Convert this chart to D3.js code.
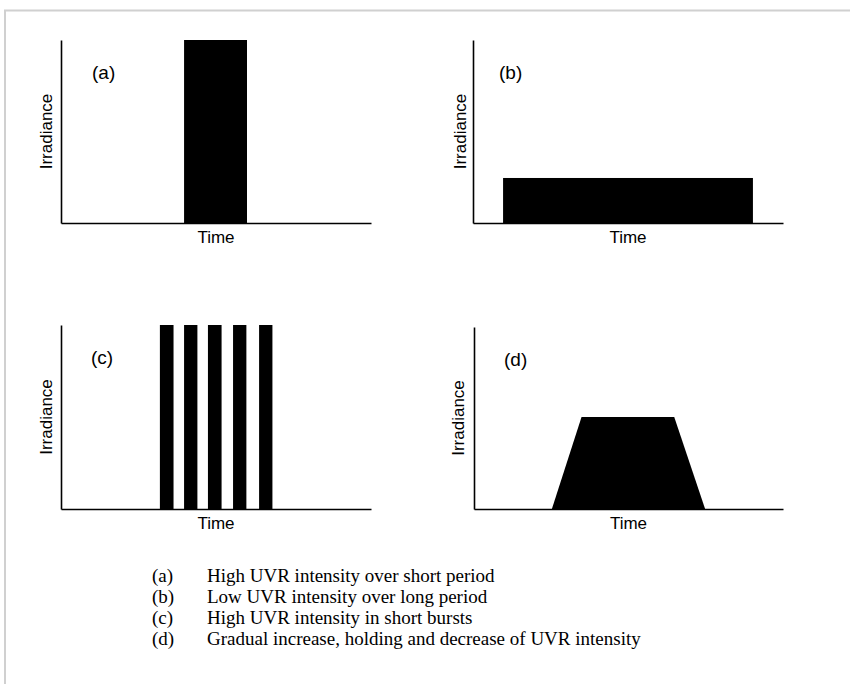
<!DOCTYPE html>
<html>
<head>
<meta charset="utf-8">
<script src="https://cdn.jsdelivr.net/npm/d3@7"></script>
<style>
  body { margin: 0; background: #fff; }
  svg { display: block; }
</style>
</head>
<body>
<div id="chart"></div>
<script>
// Size of the figure
const width = 850;
const height = 684;

// Panel letters
const panelIds = ["a", "b", "c", "d"];

// (a) one tall pulse: [start, end] in time units (0-100), irradiance 0-1
const pulseA = [[39.7, 60.0]];
const levelA = 1.0;

// (b) one long low block
const pulseB = [[9.7, 90.3]];
const levelB = 0.246;

// (c) five short bursts
const pulseC = [[31.9, 36.3], [39.7, 44.0], [47.4, 51.8], [55.5, 59.8], [63.9, 68.2]];
const levelC = 1.0;

// (d) ramp up, hold, ramp down
const rampTime = [25.2, 34.8, 64.8, 74.8];
const rampLevel = [0, 0.505, 0.505, 0];

// Caption lines
const captionKeys = ["(a)", "(b)", "(c)", "(d)"];
const captionText = [
    "High UVR intensity over short period",
    "Low UVR intensity over long period",
    "High UVR intensity in short bursts",
    "Gradual increase, holding and decrease of UVR intensity"
];

const svg = d3.select("#chart").append("svg")
    .attr("width", width)
    .attr("height", height);

// light page frame (top and left edges)
svg.append("line").attr("x1", 4).attr("x2", 850).attr("y1", 10.5).attr("y2", 10.5)
    .style("stroke", "#d0d0d0").style("stroke-width", 2);
svg.append("line").attr("x1", 5).attr("x2", 5).attr("y1", 10).attr("y2", 684)
    .style("stroke", "#d0d0d0").style("stroke-width", 2);

// where each panel sits
const frames = {
    a: { left: 61, right: 371, top: 40, bottom: 223, labelDx: 31, yLabDx: 9 },
    b: { left: 473, right: 783, top: 40, bottom: 223, labelDx: 26, yLabDx: 7 },
    c: { left: 61, right: 371, top: 325, bottom: 509, labelDx: 30, yLabDx: 9 },
    d: { left: 474, right: 783, top: 327, bottom: 509, labelDx: 30, yLabDx: 10 }
};

const drawPanel = (id) => {
    const f = frames[id];
    const x = d3.scaleLinear().domain([0, 100]).range([f.left, f.right]);
    const y = d3.scaleLinear().domain([0, 1]).range([f.bottom, f.top]);
    const g = svg.append("g").attr("class", "panel-" + id);

    // marks
    if (id === "d") {
        const pts = rampTime.map((t, i) => [t, rampLevel[i]]);
        g.append("path")
            .datum(pts)
            .attr("d", d3.line().x(d => x(d[0])).y(d => y(d[1])))
            .style("fill", "#000");
    } else {
        const spans = id === "a" ? pulseA : id === "b" ? pulseB : pulseC;
        const level = id === "a" ? levelA : id === "b" ? levelB : levelC;
        g.selectAll("rect")
            .data(spans)
            .enter().append("rect")
            .attr("x", d => x(d[0]))
            .attr("width", d => x(d[1]) - x(d[0]))
            .attr("y", y(level))
            .attr("height", y(0) - y(level))
            .style("fill", "#000");
    }

    // bare axes, no ticks
    const xAxis = g.append("g")
        .attr("transform", `translate(0,${f.bottom})`)
        .call(d3.axisBottom(x).ticks(0).tickSizeOuter(0));
    const yAxis = g.append("g")
        .attr("transform", `translate(${f.left},0)`)
        .call(d3.axisLeft(y).ticks(0).tickSizeOuter(0));
    [xAxis, yAxis].forEach(a => a.select(".domain").style("stroke", "#000").style("stroke-width", 1.6));

    g.append("text")
        .attr("x", (f.left + f.right) / 2)
        .attr("y", f.bottom + 20)
        .attr("text-anchor", "middle")
        .style("font-family", "'Liberation Sans', Arial, sans-serif")
        .style("font-size", "17px")
        .text("Time");

    g.append("text")
        .attr("transform", `translate(${f.left - f.yLabDx},${(f.top + f.bottom) / 2}) rotate(-90)`)
        .attr("text-anchor", "middle")
        .style("font-family", "'Liberation Sans', Arial, sans-serif")
        .style("font-size", "17px")
        .text("Irradiance");

    g.append("text")
        .attr("x", f.left + f.labelDx)
        .attr("y", f.top + 39)
        .style("font-family", "'Liberation Sans', Arial, sans-serif")
        .style("font-size", "19px")
        .text("(" + id + ")");
};

panelIds.forEach(drawPanel);

// caption underneath
const cap = svg.append("g").attr("class", "caption")
    .style("font-family", "'Liberation Serif', 'Times New Roman', serif")
    .style("font-size", "19px");

cap.selectAll("text.key")
    .data(captionKeys)
    .enter().append("text")
    .attr("class", "key")
    .attr("x", 152)
    .attr("y", (d, i) => 582 + i * 21)
    .text(d => d);

cap.selectAll("text.desc")
    .data(captionText)
    .enter().append("text")
    .attr("class", "desc")
    .attr("x", 207)
    .attr("y", (d, i) => 582 + i * 21)
    .text(d => d);
</script>
</body>
</html>
